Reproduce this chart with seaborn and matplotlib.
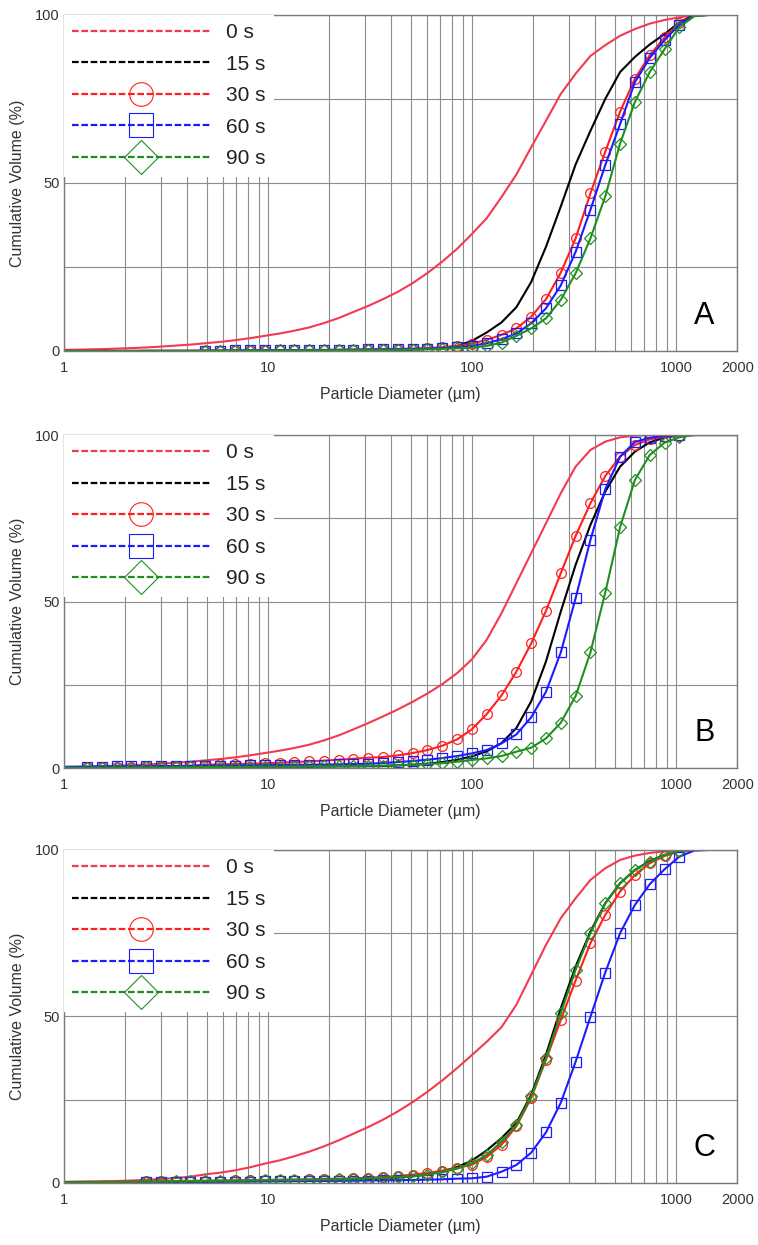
import numpy as np
import matplotlib
matplotlib.use("Agg")
import matplotlib.pyplot as plt
from matplotlib.lines import Line2D
from matplotlib.ticker import FixedLocator, NullFormatter
import seaborn as sns

sns.set_style("white")
plt.rcParams["font.family"] = ["Liberation Sans", "DejaVu Sans"]

# Size classes of the laser diffraction analyser (µm)
diameter_um = [0.93, 1.10, 1.30, 1.53, 1.81, 2.14, 2.53, 2.99, 3.53, 4.17,
               4.93, 5.83, 6.89, 8.15, 9.63, 11.4, 13.4, 15.9, 18.8, 22.2,
               26.2, 31.0, 36.6, 43.3, 51.2, 60.5, 71.5, 84.5, 99.8, 118,
               139.5, 164.9, 194.9, 230.4, 272.3, 321.9, 380.5, 449.8, 531.7, 628.5,
               742.9, 878.2, 1038, 1227, 1450, 1714, 2026]

times = ["0 s", "15 s", "30 s", "60 s", "90 s"]

# ---- Sample A: cumulative volume (%) ----
a_0s = [0.3, 0.35, 0.45, 0.55, 0.7, 0.85, 1.05, 1.3, 1.6, 1.9,
        2.3, 2.7, 3.2, 3.8, 4.5, 5.2, 6.0, 7.0, 8.3, 9.8,
        11.6, 13.4, 15.4, 17.6, 20.2, 23.2, 26.6, 30.4, 34.8, 39.5,
        45.8, 52.5, 60.6, 68.5, 76.5, 82.5, 87.8, 91.0, 93.8, 95.8,
        97.4, 98.5, 99.3, 99.9, 100, 100, 100]
a_15s = [0, 0, 0, 0, 0, 0, 0, 0, 0, 0,
         0, 0, 0, 0, 0, 0, 0, 0, 0, 0,
         0.05, 0.1, 0.15, 0.25, 0.4, 0.6, 0.9, 1.5, 3.0, 5.5,
         8.5, 13, 20.5, 31, 43, 55.5, 65.5, 75, 83, 87.5,
         91.2, 94.3, 97.8, 100, 100, 100, 100]
a_30s = [0, 0, 0, 0, 0, 0, 0.05, 0.05, 0.05, 0.05,
         0.1, 0.1, 0.15, 0.15, 0.2, 0.2, 0.25, 0.3, 0.3, 0.35,
         0.4, 0.45, 0.5, 0.6, 0.7, 0.85, 1.1, 1.5, 2.2, 3.3,
         4.8, 6.7, 10.2, 15.4, 23.3, 33.5, 46.9, 59.3, 71.2, 81,
         88, 93.3, 97.5, 99.8, 100, 100, 100]
a_60s = [0, 0, 0, 0, 0, 0, 0.05, 0.05, 0.05, 0.05,
         0.1, 0.1, 0.15, 0.15, 0.2, 0.2, 0.25, 0.3, 0.3, 0.35,
         0.4, 0.45, 0.5, 0.55, 0.6, 0.7, 0.85, 1.1, 1.5, 2.3,
         3.5, 5.2, 8.2, 12.7, 19.5, 29.5, 42, 55.3, 67.5, 80,
         87.2, 92.5, 97.1, 99.8, 100, 100, 100]
a_90s = [0, 0, 0, 0, 0, 0, 0, 0, 0, 0,
         0.05, 0.05, 0.1, 0.1, 0.1, 0.15, 0.15, 0.2, 0.2, 0.25,
         0.25, 0.3, 0.3, 0.35, 0.4, 0.5, 0.6, 0.8, 1.0, 1.5,
         2.5, 4.5, 6.7, 9.7, 15.2, 23.1, 33.5, 46, 61.7, 74.1,
         83, 89.8, 96.4, 99.6, 100, 100, 100]

# ---- Sample B ----
b_0s = [0.3, 0.35, 0.45, 0.55, 0.7, 0.85, 1.05, 1.3, 1.6, 1.9,
        2.3, 2.7, 3.2, 3.8, 4.5, 5.2, 6.0, 7.0, 8.3, 9.8,
        11.6, 13.5, 15.5, 17.6, 19.9, 22.4, 25.2, 28.5, 32.6, 38.5,
        46.5, 55.5, 64.5, 73.5, 82.5, 90.5, 95.5, 98, 99.3, 99.8,
        100, 100, 100, 100, 100, 100, 100]
b_15s = [0.1, 0.1, 0.1, 0.1, 0.15, 0.15, 0.15, 0.2, 0.2, 0.2,
         0.25, 0.25, 0.3, 0.3, 0.35, 0.35, 0.4, 0.4, 0.45, 0.5,
         0.5, 0.55, 0.6, 0.8, 1.0, 1.3, 1.8, 2.5, 3.5, 5.0,
         7.5, 12, 20, 32, 47, 61, 73, 83, 90.5, 95,
         97.8, 99.2, 100, 100, 100, 100, 100]
b_30s = [0.25, 0.28, 0.3, 0.35, 0.4, 0.45, 0.5, 0.55, 0.6, 0.7,
         1.0, 1.1, 1.2, 1.3, 1.4, 1.6, 1.8, 2.0, 2.2, 2.5,
         2.8, 3.1, 3.3, 3.8, 4.5, 5.4, 6.7, 8.6, 11.6, 16.2,
         21.8, 28.9, 37.4, 47.2, 58.5, 69.7, 79.5, 87.7, 93.5, 97,
         98.7, 99.4, 99.8, 100, 100, 100, 100]
b_60s = [0.35, 0.38, 0.4, 0.45, 0.5, 0.5, 0.55, 0.6, 0.6, 0.65,
         0.7, 0.7, 0.75, 0.8, 0.85, 0.9, 0.95, 1.0, 1.05, 1.1,
         1.2, 1.3, 1.5, 1.8, 2.1, 2.5, 3.0, 3.6, 4.4, 5.4,
         7.4, 10.1, 15.2, 22.9, 34.7, 51, 68.5, 83.7, 93.5, 97.9,
         99.2, 99.7, 100, 100, 100, 100, 100]
b_90s = [0.05, 0.08, 0.1, 0.1, 0.15, 0.15, 0.2, 0.2, 0.25, 0.25,
         0.3, 0.3, 0.35, 0.35, 0.4, 0.4, 0.45, 0.5, 0.5, 0.55,
         0.6, 0.65, 0.7, 0.85, 1.0, 1.2, 1.5, 1.9, 2.4, 2.9,
         3.6, 4.9, 6.1, 8.9, 13.6, 21.6, 34.7, 52.7, 72.3, 86.5,
         94, 97.7, 99.3, 100, 100, 100, 100]

# ---- Sample C ----
c_0s = [0.3, 0.35, 0.4, 0.5, 0.6, 0.75, 0.95, 1.2, 1.5, 1.9,
        2.6, 3.1, 3.8, 4.7, 5.8, 6.8, 8.0, 9.4, 11.0, 12.8,
        14.8, 16.8, 19.0, 21.5, 24.3, 27.4, 30.8, 34.5, 38.4, 42.4,
        46.8, 53.5, 62.5, 71.5, 79.5, 85.5, 91, 94.5, 97, 98.3,
        99.1, 99.6, 99.9, 100, 100, 100, 100]
c_15s = [0.1, 0.1, 0.1, 0.15, 0.15, 0.2, 0.2, 0.25, 0.3, 0.35,
         0.4, 0.45, 0.5, 0.55, 0.6, 0.65, 0.7, 0.75, 0.8, 0.9,
         1.0, 1.1, 1.3, 1.6, 2.0, 2.6, 3.5, 4.8, 6.7, 9.8,
         13.5, 18, 26.5, 38.5, 52.5, 65, 75.5, 84, 90, 94,
         96.7, 98.5, 99.6, 100, 100, 100, 100]
c_30s = [0.3, 0.35, 0.4, 0.4, 0.45, 0.45, 0.5, 0.55, 0.6, 0.65,
         0.7, 0.75, 0.8, 0.85, 0.9, 1.0, 1.05, 1.1, 1.2, 1.3,
         1.4, 1.6, 1.8, 2.1, 2.5, 3.0, 3.7, 4.5, 5.5, 7.8,
         11.5, 17, 25.5, 37, 49, 60.8, 72, 80.5, 87.5, 92.5,
         96, 98.2, 99.6, 100, 100, 100, 100]
c_60s = [0.2, 0.2, 0.25, 0.25, 0.25, 0.3, 0.3, 0.3, 0.35, 0.35,
         0.4, 0.4, 0.45, 0.45, 0.5, 0.5, 0.55, 0.6, 0.6, 0.65,
         0.7, 0.75, 0.8, 0.85, 0.9, 1.0, 1.1, 1.3, 1.4, 1.9,
         3.4, 5.4, 9.1, 15.2, 24.1, 36.4, 49.9, 63.2, 75, 83.5,
         89.7, 94.2, 98, 99.8, 100, 100, 100]
c_90s = [0.2, 0.25, 0.25, 0.3, 0.3, 0.35, 0.4, 0.45, 0.5, 0.55,
         0.6, 0.65, 0.7, 0.75, 0.8, 0.85, 0.9, 0.95, 1.0, 1.1,
         1.2, 1.35, 1.5, 1.7, 2.0, 2.5, 3.2, 4.3, 5.9, 8.4,
         12.4, 17.5, 26, 37.5, 51, 64, 75, 84, 90, 94,
         96.5, 98.5, 99.8, 100, 100, 100, 100]

# first size class carrying a symbol in each panel
panels = [
    ("A", [a_0s, a_15s, a_30s, a_60s, a_90s], 10),
    ("B", [b_0s, b_15s, b_30s, b_60s, b_90s], 2),
    ("C", [c_0s, c_15s, c_30s, c_60s, c_90s], 6),
]
last_marked = 42

colors = ["#f23a50", "#000000", "#ff1f1f", "#1c1cff", "#1f8f1f"]
markers = [None, None, "o", "s", "D"]
marker_sizes = [0, 0, 7, 7, 6]

xticks = [1, 10, 100, 1000, 2000]
grid_x = [2, 3, 4, 5, 6, 7, 8, 9, 20, 30, 40, 50, 60, 70, 80, 90,
          200, 300, 400, 500, 600, 700, 800, 900]

fig = plt.figure(figsize=(7.58, 12.45), dpi=100)
rects = [[0.0844, 0.7181, 0.8885, 0.2699],
         [0.0844, 0.3831, 0.8885, 0.2675],
         [0.0844, 0.0498, 0.8885, 0.2675]]

text_col = "#333333"
grid_col = "#8c8c8c"

for rect, (letter, series, first_marked) in zip(rects, panels):
    ax = fig.add_axes(rect)
    ax.set_axisbelow(True)
    for vals, col, mk, ms in zip(series, colors, markers, marker_sizes):
        kw = dict(color=col, linewidth=1.5, legend=False, estimator=None, sort=False)
        if mk is not None:
            kw.update(marker=mk, markersize=ms, markerfacecolor="none",
                      markeredgecolor=col, markeredgewidth=0.9,
                      markevery=list(range(first_marked, last_marked + 1)))
        sns.lineplot(x=diameter_um, y=vals, ax=ax, **kw)

    ax.set_xscale("log")
    ax.set_xlim(1, 2000)
    ax.set_ylim(0, 100)
    ax.xaxis.set_major_locator(FixedLocator(xticks))
    ax.set_xticklabels([str(v) for v in xticks])
    ax.xaxis.set_minor_locator(FixedLocator(grid_x))
    ax.xaxis.set_minor_formatter(NullFormatter())
    ax.yaxis.set_major_locator(FixedLocator([0, 50, 100]))
    ax.yaxis.set_minor_locator(FixedLocator([25, 75]))
    ax.grid(which="both", color=grid_col, linewidth=0.8)
    ax.tick_params(which="both", length=0, labelsize=10.5, colors=text_col)
    ax.tick_params(axis="x", pad=7)
    ax.tick_params(axis="y", pad=3)
    for sp in ax.spines.values():
        sp.set_color("#7a7a7a")
        sp.set_linewidth(1.0)

    ax.set_xlabel("Particle Diameter (µm)", fontsize=11.5, color=text_col, labelpad=9)
    ax.set_ylabel("Cumulative Volume (%)", fontsize=11.5, color=text_col, labelpad=7)

    ax.text(0.951, 0.105, letter, transform=ax.transAxes, fontsize=22,
            ha="center", va="center", color="black")

    handles = []
    for col, mk in zip(colors, markers):
        handles.append(Line2D([], [], color=col, linewidth=1.6, linestyle=(0, (3, 1.2)),
                              marker=mk, markersize=17, markerfacecolor="none",
                              markeredgecolor=col, markeredgewidth=0.8))
    leg = ax.legend(handles, times, loc="upper left", bbox_to_anchor=(0, 1),
                    borderaxespad=0, fontsize=15, handlelength=6.6,
                    handletextpad=0.8, labelspacing=0.6, borderpad=0.4,
                    numpoints=1, frameon=True, fancybox=False, framealpha=1,
                    facecolor="white", edgecolor="none")
    for t in leg.get_texts():
        t.set_color("#222222")

fig.savefig("out.png", dpi=100)
